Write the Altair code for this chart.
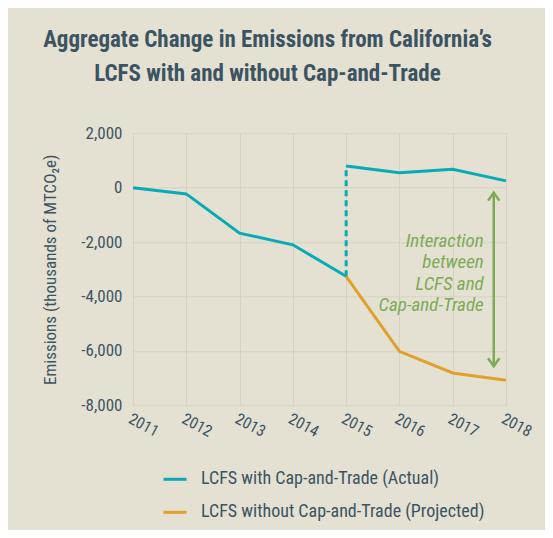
import altair as alt
import pandas as pd

# ---- data ----
series_names = ["LCFS with Cap-and-Trade (Actual)", "LCFS without Cap-and-Trade (Projected)"]
years_pre = [2011, 2012, 2013, 2014, 2015]
actual_pre = [0, -228, -1670, -2100, -3256]
years_post = [2015, 2016, 2017, 2018]
actual_post = [800, 554, 679, 250]
projected = [-3256, -6017, -6810, -7082]
year_ticks = [2011, 2012, 2013, 2014, 2015, 2016, 2017, 2018]
y_ticks = [-8000, -6000, -4000, -2000, 0, 2000]
arrow_year = [2017.77]
arrow_top = [-180]
arrow_bottom = [-6568]
note_lines = ["Interaction", "between", "LCFS and", "Cap-and-Trade"]
note_value = [-1942]

TEAL = "#07abb5"
ORANGE = "#e0a02b"
GREEN = "#7dab55"
INK = "#3c5462"
GRID = "#d5d2c3"
BG = "#e4e1d3"
FONT = "'Roboto Condensed', Roboto, sans-serif"

rows = []
for y, v in zip(years_pre, actual_pre):
    rows.append({"series": series_names[0], "seg": "a", "year": y, "value": v})
for y, v in zip(years_post, actual_post):
    rows.append({"series": series_names[0], "seg": "b", "year": y, "value": v})
for y, v in zip(years_post, projected):
    rows.append({"series": series_names[1], "seg": "c", "year": y, "value": v})
df = pd.DataFrame(rows)

jump = pd.DataFrame({"year": [years_pre[-1]], "lo": [actual_pre[-1]], "hi": [actual_post[0]]})
arrow = pd.DataFrame({"year": arrow_year, "top": arrow_top, "bottom": arrow_bottom})
note = pd.DataFrame({"year": arrow_year, "value": note_value, "label": ["\n".join(note_lines)]})

xscale = alt.Scale(domain=[2011, 2018], nice=False, zero=False)
yscale = alt.Scale(domain=[-8000, 2000], nice=False)

x_axis = alt.Axis(values=year_ticks, format="d", labelAngle=28, labelAlign="left",
                  labelBaseline="top", labelPadding=5, labelFontSize=16, labelFont=FONT,
                  labelColor=INK, labelFlush=False, labelBound=False, domain=False,
                  ticks=False, grid=True, gridColor=GRID, title=None)
y_axis = alt.Axis(values=y_ticks, format=",d", labelFontSize=17, labelFont=FONT,
                  labelExpr="replace(datum.label, '−', '-')",
                  labelColor=INK, labelPadding=11, domain=False, ticks=False, grid=True,
                  gridColor=GRID, title="Emissions (thousands of MTCO₂e)",
                  titleFont=FONT, titleFontSize=17, titleFontWeight="normal",
                  titleColor=INK, titlePadding=21)

color = alt.Color("series:N", scale=alt.Scale(domain=series_names, range=[TEAL, ORANGE]),
                  legend=alt.Legend(title=None, orient="none", legendX=29, legendY=333,
                                    symbolType="stroke", symbolStrokeWidth=3, symbolSize=529,
                                    labelFontSize=18, labelFont=FONT, labelColor=INK,
                                    labelLimit=0, labelOffset=13, rowPadding=11, padding=0))

base = alt.Chart(df)
lines = base.mark_line(strokeWidth=3, strokeCap="butt").encode(
    x=alt.X("year:Q", scale=xscale, axis=x_axis),
    y=alt.Y("value:Q", scale=yscale, axis=y_axis),
    color=color,
    detail="seg:N",
    order="year:Q",
)

dashed = alt.Chart(jump).mark_rule(color=TEAL, strokeWidth=3, strokeDash=[6, 4]).encode(
    x="year:Q", y="lo:Q", y2="hi:Q")

arrow_line = alt.Chart(arrow).mark_rule(color=GREEN, strokeWidth=2.5).encode(
    x="year:Q", y="top:Q", y2="bottom:Q")
head_up = alt.Chart(arrow).mark_point(shape="M-0.7,1L0,0L0.7,1", filled=False, size=260,
                                      stroke=GREEN, strokeWidth=2.5, opacity=1).encode(
    x="year:Q", y="top:Q")
head_down = alt.Chart(arrow).mark_point(shape="M-0.7,-1L0,0L0.7,-1", filled=False, size=260,
                                        stroke=GREEN, strokeWidth=2.5, opacity=1).encode(
    x="year:Q", y="bottom:Q")
note_text = alt.Chart(note).mark_text(align="right", baseline="middle", dx=-10,
                                      font=FONT, fontSize=19, fontStyle="italic",
                                      color=GREEN, lineBreak="\n", lineHeight=21.5).encode(
    x="year:Q", y="value:Q", text="label:N")

chart = alt.layer(lines, dashed, arrow_line, head_up, head_down, note_text).properties(
    width=373, height=272,
    autosize=alt.AutoSizeParams(type="none"),
    padding={"left": 125, "top": 125.3, "right": 39, "bottom": 124.7},
    background=BG,
    title=alt.TitleParams(["Aggregate Change in Emissions from California’s",
                           "LCFS with and without Cap-and-Trade"],
                          font=FONT, fontSize=23, fontWeight="bold", color=INK,
                          anchor="middle", dx=-52, offset=38, lineHeight=34),
).configure_view(stroke=None)

chart.save("out.html", embed_options={"renderer": "svg", "actions": False})
